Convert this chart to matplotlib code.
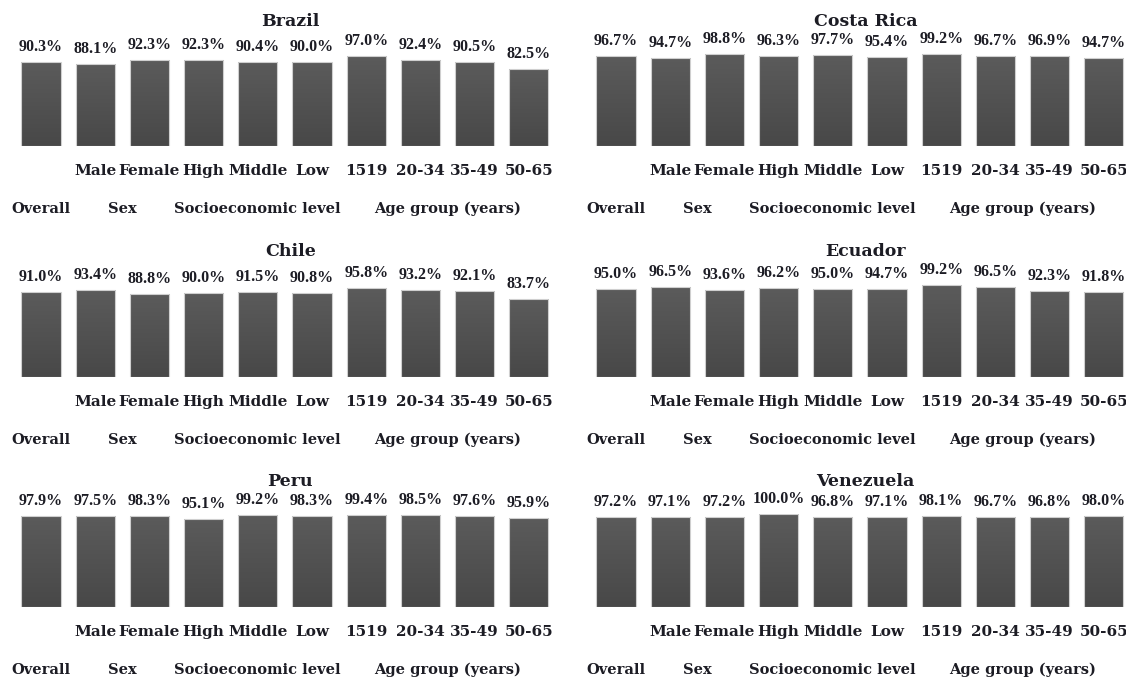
import matplotlib
matplotlib.use('Agg')
import matplotlib.pyplot as plt
import numpy as np
from matplotlib.colors import LinearSegmentedColormap
from matplotlib.patches import Rectangle

countries = ['Brazil', 'Costa Rica', 'Chile', 'Ecuador', 'Peru', 'Venezuela']
categories = ['', 'Male', 'Female', 'High', 'Middle', 'Low', '1519', '20-34', '35-49', '50-65']
groups = ['Overall', 'Sex', 'Socioeconomic level', 'Age group (years)']
group_pos = [0, 1.5, 4, 7.5]

brazil = [90.3, 88.1, 92.3, 92.3, 90.4, 90.0, 97.0, 92.4, 90.5, 82.5]
costa_rica = [96.7, 94.7, 98.8, 96.3, 97.7, 95.4, 99.2, 96.7, 96.9, 94.7]
chile = [91.0, 93.4, 88.8, 90.0, 91.5, 90.8, 95.8, 93.2, 92.1, 83.7]
ecuador = [95.0, 96.5, 93.6, 96.2, 95.0, 94.7, 99.2, 96.5, 92.3, 91.8]
peru = [97.9, 97.5, 98.3, 95.1, 99.2, 98.3, 99.4, 98.5, 97.6, 95.9]
venezuela = [97.2, 97.1, 97.2, 100.0, 96.8, 97.1, 98.1, 96.7, 96.8, 98.0]
series = [brazil, costa_rica, chile, ecuador, peru, venezuela]

FONT = 'DejaVu Serif'
VFONT = 'Liberation Serif'
TXT = '#1c1c24'
W, H = 1126, 679
fig = plt.figure(figsize=(W / 100, H / 100), dpi=100)

spacing = 54.2
lefts = [41 - spacing / 2, 616 - spacing / 2]
baselines = [146, 377, 607]
yscale = 0.93  # px per percent
cmap = LinearSegmentedColormap.from_list('g', ['#484848', '#5b5b5b'])
grad = np.linspace(0, 1, 64).reshape(-1, 1)

for idx, (name, vals) in enumerate(zip(countries, series)):
    r, c = divmod(idx, 2)
    left = lefts[c]
    base = baselines[r]
    ax = fig.add_axes([left / W, (H - base) / H, 10 * spacing / W, 100 * yscale / H])
    ax.set_axis_off()
    x = np.arange(len(vals))
    bw = 0.72
    for xi, v in zip(x, vals):
        rect = Rectangle((xi - bw / 2, 0), bw, v, facecolor='none', edgecolor='#cfcfcf', lw=0.8, zorder=3)
        ax.add_patch(rect)
        im = ax.imshow(grad, cmap=cmap, aspect='auto', origin='lower',
                       extent=(xi - bw / 2, xi + bw / 2, 0, v), zorder=2)
        im.set_clip_path(rect)
        ax.annotate(f'{v:.1f}%', xy=(xi, v), xytext=(0, 7), textcoords='offset pixels',
                    ha='center', va='bottom', fontsize=11.5, fontweight='bold',
                    family=VFONT, color=TXT, annotation_clip=False)
    ax.set_xlim(-0.5, 9.5)
    ax.set_ylim(0, 100)
    for xi, lab in zip(x, categories):
        if lab:
            ax.annotate(lab, xy=(xi, 0), xytext=(0, -25), textcoords='offset pixels',
                        ha='center', va='center', fontsize=11, fontweight='bold',
                        family=FONT, color=TXT, annotation_clip=False)
    for gp, g in zip(group_pos, groups):
        ax.annotate(g, xy=(gp, 0), xytext=(0, -63), textcoords='offset pixels',
                    ha='center', va='center', fontsize=10.5, fontweight='bold',
                    family=FONT, color=TXT, annotation_clip=False)
    ax.annotate(name, xy=(4.6, 0), xytext=(0, 125), textcoords='offset pixels',
                ha='center', va='center', fontsize=12.5, fontweight='bold',
                family=FONT, color=TXT, annotation_clip=False)

fig.savefig('out.png', dpi=100, facecolor='white')
